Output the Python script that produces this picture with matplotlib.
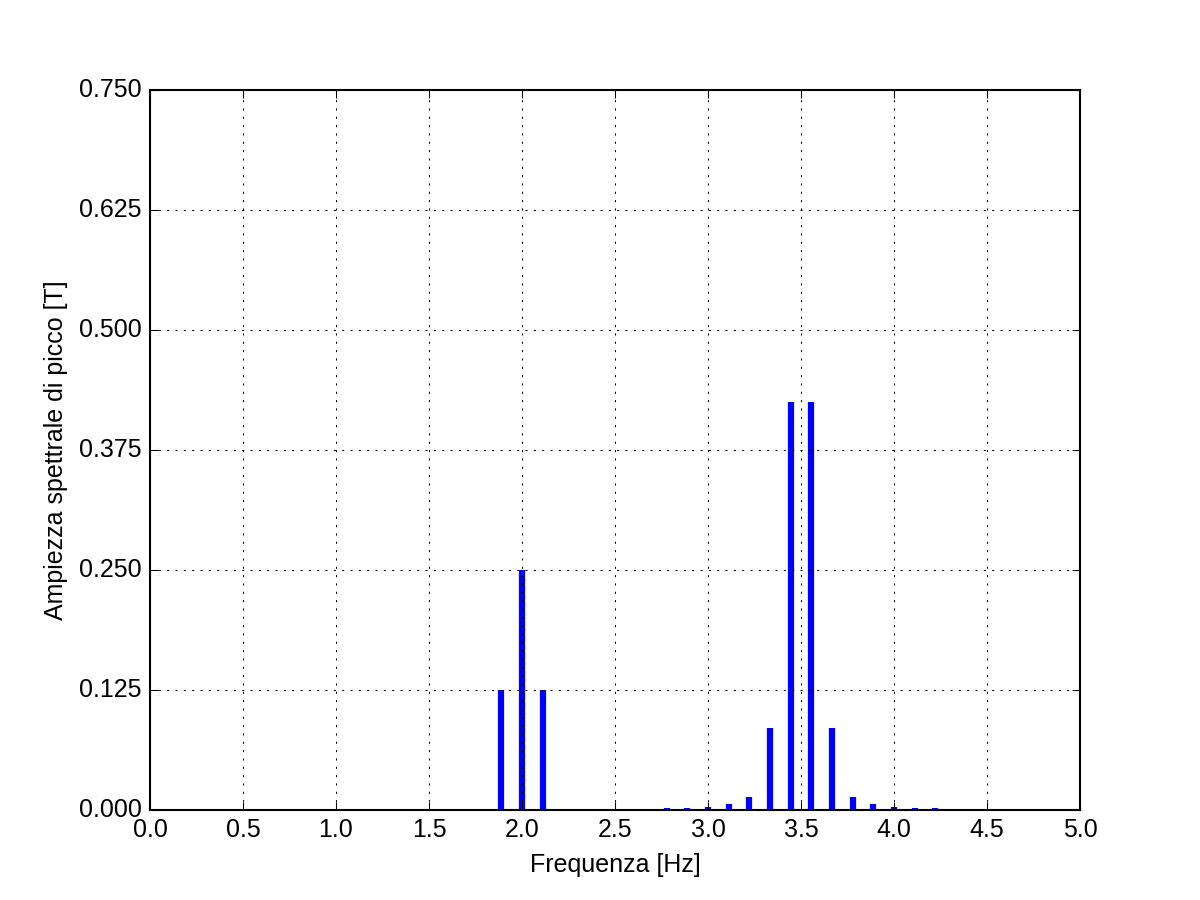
import matplotlib
matplotlib.use('Agg')
import matplotlib.pyplot as plt
import numpy as np

plt.style.use('classic')
plt.rcParams['font.family'] = ['Liberation Sans', 'DejaVu Sans']

# risoluzione in frequenza 1/9 Hz, solo le righe non nulle
bins = [17, 18, 19, 25, 26, 27, 28, 29, 30, 31, 32, 33, 34, 35, 36, 37, 38]
ampiezza = [0.125, 0.25, 0.125,
            0.0018, 0.0024, 0.0035, 0.0058, 0.014, 0.0855, 0.425,
            0.425, 0.0855, 0.014, 0.0058, 0.0035, 0.0024, 0.0018]
freq = np.array(bins) / 9.0

fig = plt.figure(figsize=(8, 6), dpi=150)
ax = fig.add_subplot(111)
ax.vlines(freq, 0, ampiezza, colors='b', linewidth=3)
ax.set_xlim(0, 5)
ax.set_ylim(0, 0.75)
ax.set_xticks(np.arange(0, 5.01, 0.5))
ax.set_yticks(np.arange(0, 0.751, 0.125))
ax.yaxis.set_major_formatter(matplotlib.ticker.FormatStrFormatter('%.3f'))
ax.grid(True)
ax.set_xlabel('Frequenza [Hz]')
ax.set_ylabel('Ampiezza spettrale di picco [T]')

plt.savefig('out.png', dpi=150)
